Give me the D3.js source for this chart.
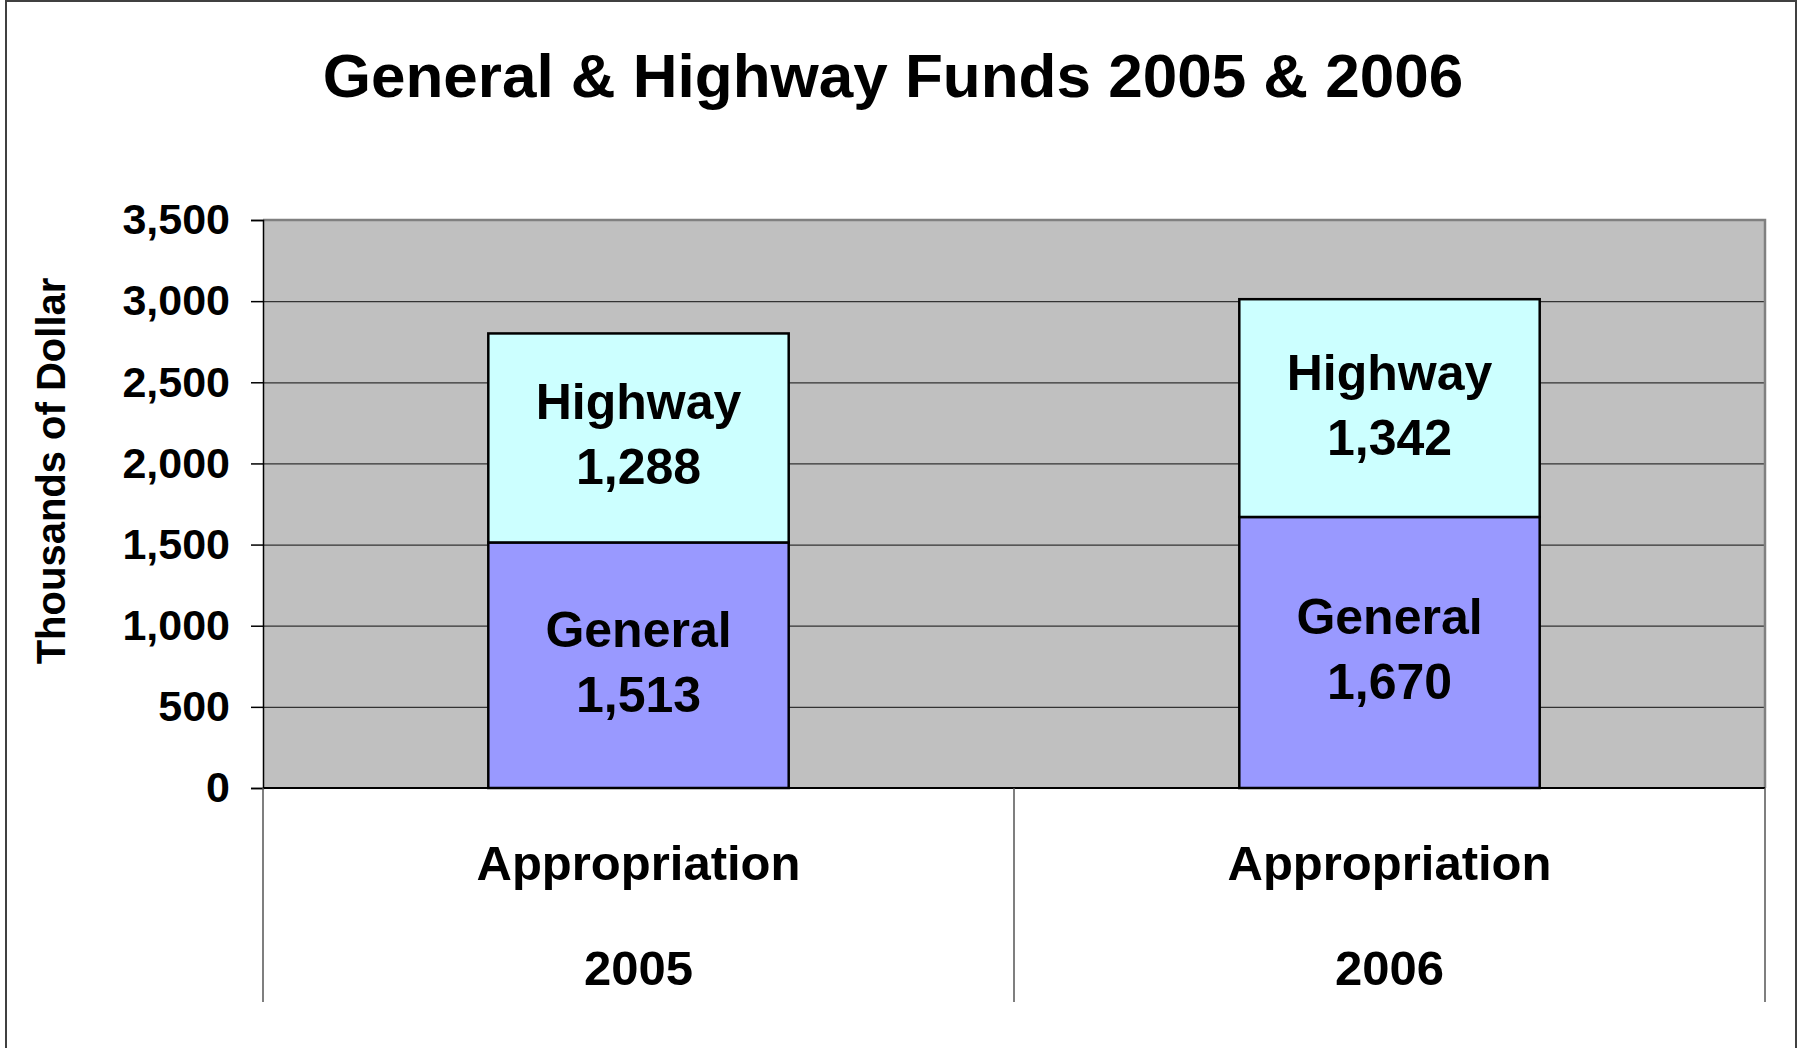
<!DOCTYPE html>
<html>
<head>
<meta charset="utf-8">
<script src="https://cdn.jsdelivr.net/npm/d3@7"></script>
<style>
  body { margin: 0; background: #fff; }
  text { font-family: "Liberation Sans", Arial, sans-serif; font-weight: bold; fill: #000; }
</style>
</head>
<body>
<div id="app"></div>
<script>
// chart data
const years = ["2005", "2006"];
const catLabel = "Appropriation";
const general = [1513, 1670];
const highway = [1288, 1342];
const seriesNames = ["General", "Highway"];
const yTicks = [0, 500, 1000, 1500, 2000, 2500, 3000, 3500];

const w = 1799, h = 1048;
const plotL = 263, plotR = 1765, plotT = 220, plotB = 788;

const svg = d3.select("#app")
  .append("svg")
  .attr("width", w)
  .attr("height", h);

// outer frame
svg.append("rect")
  .attr("x", 6).attr("y", 1)
  .attr("width", 1790).attr("height", 1060)
  .attr("fill", "#fff")
  .attr("stroke", "#404040")
  .attr("stroke-width", 2);

svg.append("text")
  .attr("x", 893).attr("y", 97)
  .attr("text-anchor", "middle")
  .style("font-size", "62px")
  .text("General & Highway Funds 2005 & 2006");

const xScale = d3.scaleBand()
  .domain(years)
  .range([plotL, plotR])
  .paddingInner(0).paddingOuter(0);

const yScale = d3.scaleLinear()
  .domain([0, 3500])
  .range([plotB, plotT]);

// plot background
svg.append("rect")
  .attr("x", plotL).attr("y", plotT)
  .attr("width", plotR - plotL).attr("height", plotB - plotT)
  .attr("fill", "#c0c0c0");

// gridlines
const grid = svg.append("g")
  .attr("transform", "translate(" + plotL + ",0)")
  .call(d3.axisLeft(yScale).tickValues(yTicks.slice(1, -1)).tickSize(-(plotR - plotL)).tickFormat(""));
grid.select(".domain").remove();
grid.selectAll("line").attr("stroke", "#333").attr("stroke-width", 1.2);

// plot border top/right
svg.append("path")
  .attr("d", "M" + plotL + "," + plotT + "H" + plotR + "V" + plotB)
  .attr("fill", "none")
  .attr("stroke", "#808080")
  .attr("stroke-width", 2.5);

// stacked bars
const table = years.map((y, i) => ({ year: y, General: general[i], Highway: highway[i] }));
const stacked = d3.stack().keys(seriesNames)(table);
const colors = { General: "#9999ff", Highway: "#ccffff" };
const barW = xScale.bandwidth() * 0.4;

const layers = svg.selectAll(".layer")
  .data(stacked)
  .enter()
  .append("g")
  .attr("class", "layer");

layers.selectAll("rect")
  .data(d => d.map(p => ({ key: d.key, p: p })))
  .enter()
  .append("rect")
  .attr("x", d => xScale(d.p.data.year) + (xScale.bandwidth() - barW) / 2)
  .attr("y", d => yScale(d.p[1]))
  .attr("width", barW)
  .attr("height", d => yScale(d.p[0]) - yScale(d.p[1]))
  .attr("fill", d => colors[d.key])
  .attr("stroke", "#000")
  .attr("stroke-width", 2.5);

// bar labels
layers.selectAll(".lbl")
  .data(d => d.map(p => ({ key: d.key, p: p })))
  .enter()
  .append("text")
  .attr("class", "lbl")
  .attr("text-anchor", "middle")
  .style("font-size", "50px")
  .attr("transform", d => {
    const cx = xScale(d.p.data.year) + xScale.bandwidth() / 2;
    const cy = (yScale(d.p[0]) + yScale(d.p[1])) / 2;
    return "translate(" + cx + "," + (cy - 3.5) + ")";
  })
  .each(function (d) {
    const t = d3.select(this);
    t.append("tspan").attr("x", 0).attr("y", -15).text(d.key);
    t.append("tspan").attr("x", 0).attr("y", 50).text(d3.format(",")(d.p[1] - d.p[0]));
  });

// y axis
const yAxis = svg.append("g")
  .attr("transform", "translate(" + plotL + ",0)")
  .call(d3.axisLeft(yScale).tickValues(yTicks).tickFormat(d3.format(",")).tickSize(12).tickPadding(21));
yAxis.select(".domain").attr("stroke", "#000").attr("stroke-width", 1.5);
yAxis.selectAll("line").attr("stroke", "#000").attr("stroke-width", 1.5);
yAxis.selectAll("text")
  .style("font-size", "43px")
  .style("font-family", "'Liberation Sans', Arial, sans-serif")
  .style("font-weight", "bold")
  .attr("fill", "#000");

// baseline
svg.append("line")
  .attr("x1", plotL).attr("x2", plotR)
  .attr("y1", plotB).attr("y2", plotB)
  .attr("stroke", "#000").attr("stroke-width", 2);

// category dividers
const edges = years.map(y => xScale(y)).concat([xScale(years[years.length - 1]) + xScale.bandwidth()]);
svg.selectAll(".div")
  .data(edges)
  .enter()
  .append("line")
  .attr("class", "div")
  .attr("x1", d => d).attr("x2", d => d)
  .attr("y1", plotB).attr("y2", 1002)
  .attr("stroke", "#555").attr("stroke-width", 1.5);

// category labels
const catG = svg.selectAll(".cat")
  .data(years)
  .enter()
  .append("text")
  .attr("class", "cat")
  .attr("text-anchor", "middle")
  .style("font-size", "49px");
catG.append("tspan")
  .attr("x", d => xScale(d) + xScale.bandwidth() / 2)
  .attr("y", 880)
  .text(catLabel);
catG.append("tspan")
  .attr("x", d => xScale(d) + xScale.bandwidth() / 2)
  .attr("y", 985)
  .text(d => d);

// y axis title
svg.append("text")
  .attr("transform", "translate(65,471) rotate(-90)")
  .attr("text-anchor", "middle")
  .style("font-size", "40px")
  .text("Thousands of Dollar");
</script>
</body>
</html>
